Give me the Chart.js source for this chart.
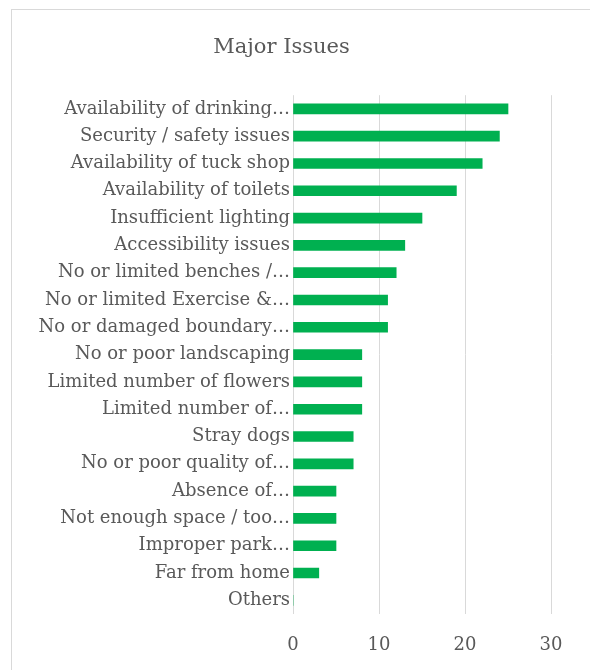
<!DOCTYPE html>
<html>
<head>
<meta charset="utf-8">
<script src="https://cdn.jsdelivr.net/npm/chart.js@4.4.0/dist/chart.umd.min.js"></script>
<style>
  html, body { margin: 0; padding: 0; background: #fff; }
  #wrap { width: 590px; height: 670px; }
</style>
</head>
<body>
<div id="wrap"><canvas id="mycanvas" width="590" height="670"></canvas></div>
<script>
// categories as shown (Excel truncated the long ones)
var issues = [
  'Availability of drinking\u2026',
  'Security / safety issues',
  'Availability of tuck shop',
  'Availability of toilets',
  'Insufficient lighting',
  'Accessibility issues',
  'No or limited benches /\u2026',
  'No or limited Exercise &\u2026',
  'No or damaged boundary\u2026',
  'No or poor landscaping',
  'Limited number of flowers',
  'Limited number of\u2026',
  'Stray dogs',
  'No or poor quality of\u2026',
  'Absence of\u2026',
  'Not enough space / too\u2026',
  'Improper park\u2026',
  'Far from home',
  'Others'
];
var counts = [25, 24, 22, 19, 15, 13, 12, 11, 11, 8, 8, 8, 7, 7, 5, 5, 5, 3, 0];
var xTicks = [0, 10, 20, 30];

var FONT = "'DejaVu Serif', serif";
var TEXT = '#595959';

// light grey frame round the whole chart, like the Excel chart border
var frame = {
  id: 'frame',
  beforeDraw: function(chart) {
    var c = chart.ctx;
    c.save();
    c.strokeStyle = '#d9d9d9';
    c.lineWidth = 1;
    c.strokeRect(11.5, 9.5, 700, 800);
    c.restore();
  }
};

new Chart(document.getElementById('mycanvas'), {
  type: 'bar',
  data: {
    labels: issues,
    datasets: [{
      label: 'Count',
      data: counts,
      backgroundColor: '#00b050',
      barThickness: 10
    }]
  },
  options: {
    indexAxis: 'y',
    responsive: false,
    animation: false,
    layout: { padding: { left: 12, right: 39, top: 35, bottom: 0 } },
    scales: {
      x: {
        min: 0,
        max: 30,
        afterBuildTicks: function(axis) {
          axis.ticks = xTicks.map(function(v) { return { value: v }; });
        },
        afterFit: function(axis) { axis.height = 56; },
        grid: { color: '#d9d9d9', drawTicks: false, lineWidth: 1 },
        border: { display: false },
        ticks: { color: TEXT, font: { family: FONT, size: 18 }, padding: 21 }
      },
      y: {
        afterFit: function(axis) { axis.width = 281; },
        grid: { display: false, drawTicks: false },
        border: { display: false },
        ticks: { color: TEXT, font: { family: FONT, size: 18 }, padding: 3, autoSkip: false }
      }
    },
    plugins: {
      legend: { display: false },
      tooltip: { enabled: false },
      title: {
        display: true,
        text: 'Major Issues',
        color: TEXT,
        font: { family: FONT, size: 21, weight: 'normal' },
        padding: { top: 0, bottom: 35 }
      }
    }
  },
  plugins: [frame]
});
</script>
</body>
</html>
